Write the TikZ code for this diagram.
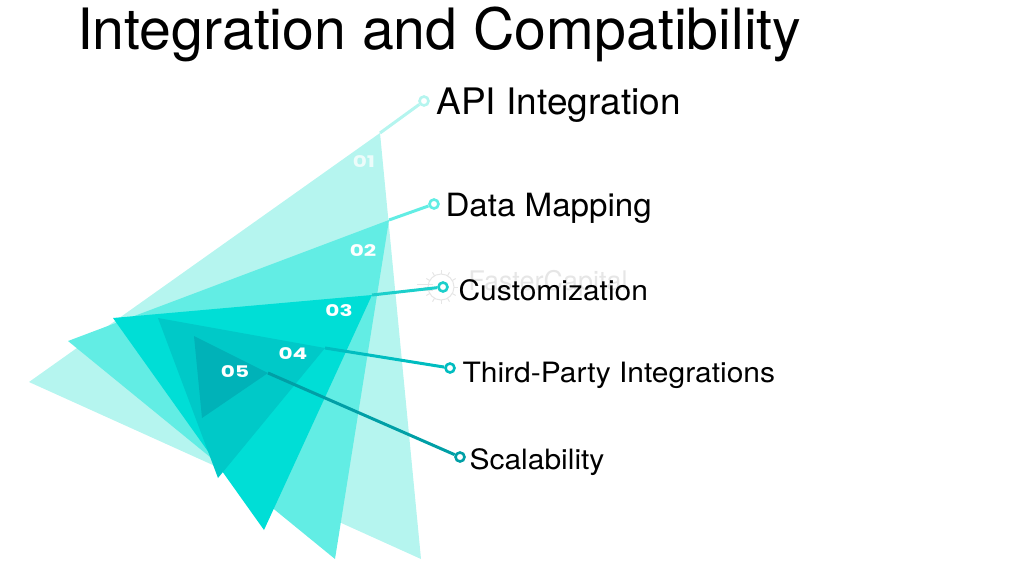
\documentclass[tikz,border=0pt]{standalone}
\usepackage{fontspec}
\usepackage{tikz}
\usetikzlibrary{positioning}
\setmainfont{TeX Gyre Heros}
\newfontfamily\numfont{Poppins}
\definecolor{tealA}{HTML}{B5F5EF}
\definecolor{tealB}{HTML}{62EDE4}
\definecolor{tealC}{HTML}{00DED6}
\definecolor{tealD}{HTML}{00C9C8}
\definecolor{tealE}{HTML}{00B2B8}
\definecolor{lineC}{HTML}{1CCFCB}
\definecolor{lineD}{HTML}{00BDC0}
\definecolor{lineE}{HTML}{009FA6}
\definecolor{markgray}{HTML}{E6E6E6}
\begin{document}
\begin{tikzpicture}[x=1pt, y=-1pt, line width=3pt,
                    dot node/.style={circle,draw,fill=white,line width=2.6pt,inner sep=0pt,minimum size=9pt},
                    label node/.style={inner sep=0pt,text=black,anchor=base west},
                    small label/.style={label node,xscale=1.07,font=\fontsize{28}{28}\selectfont},
                    num node/.style={text=white,inner sep=0pt,xscale=1.35,font=\numfont\bfseries\fontsize{16}{16}\selectfont}]
  \useasboundingbox (0,0) rectangle (1024,576);

  % corners where the leader lines start
  \coordinate (tip1) at (380,133);
  \coordinate (tip2) at (389,220);
  \coordinate (tip3) at (372,295);
  \coordinate (tip4) at (325,348);
  \coordinate (tip5) at (268,373);

  % triangles, back to front
  \fill[tealA] (tip1) -- (29,382) -- (421,559) -- cycle;
  \fill[tealB] (tip2) -- (68,341) -- (335,559) -- cycle;
  \fill[tealC] (tip3) -- (113,318) -- (264,530) -- cycle;
  \fill[tealD] (tip4) -- (158,318) -- (218,478) -- cycle;
  \fill[tealE] (tip5) -- (194,336) -- (202,418) -- cycle;

  % faint watermark
  \node[text=markgray,inner sep=0pt,font=\fontsize{27}{27}\selectfont] (mark) at (548,283) {FasterCapital};
  \begin{scope}[shift={(441,287)},markgray,line width=1pt]
    \draw (0,0) circle (13);
    \foreach \a in {0,30,...,330}
      \draw (\a:13) -- (\a:17);
    \draw (-24,-3) -- (-8,-3) (-24,3) -- (-8,3);
  \end{scope}

  \node[dot node,draw=tealA] (dot1) at (424,101) {};
  \node[dot node,draw=tealB] (dot2) at (434,204) {};
  \node[dot node,draw=lineC] (dot3) at (443,287) {};
  \node[dot node,draw=lineD] (dot4) at (450,368) {};
  \node[dot node,draw=lineE] (dot5) at (460,457) {};

  \node[label node,xscale=1.015,font=\fontsize{36.5}{36.5}\selectfont] (api) at (435,114) {API Integration};
  \node[label node,xscale=1.035,font=\fontsize{32}{32}\selectfont] (data) at (444,216) {Data Mapping};
  \node[small label] (cust) at (457,300) {Customization};
  \node[small label] (third) at (461,382) {Third-Party Integrations};
  \node[small label] (scal) at (468,469) {Scalability};

  \node[label node,xscale=1.004,font=\fontsize{57}{57}\selectfont] (title) at (75.5,49.5) {Integration and Compatibility};

  \node[num node,text opacity=0.75] (n1) at (364,162) {01};
  \node[num node] (n2) at (363,251) {02};
  \node[num node] (n3) at (339,311) {03};
  \node[num node] (n4) at (293,354) {04};
  \node[num node] (n5) at (235,372) {05};

  \path
    (tip1) edge[tealA] (dot1)
    (tip2) edge[tealB] (dot2)
    (tip3) edge[lineC] (dot3)
    (tip4) edge[lineD] (dot4)
    (tip5) edge[lineE] (dot5);
\end{tikzpicture}
\end{document}
